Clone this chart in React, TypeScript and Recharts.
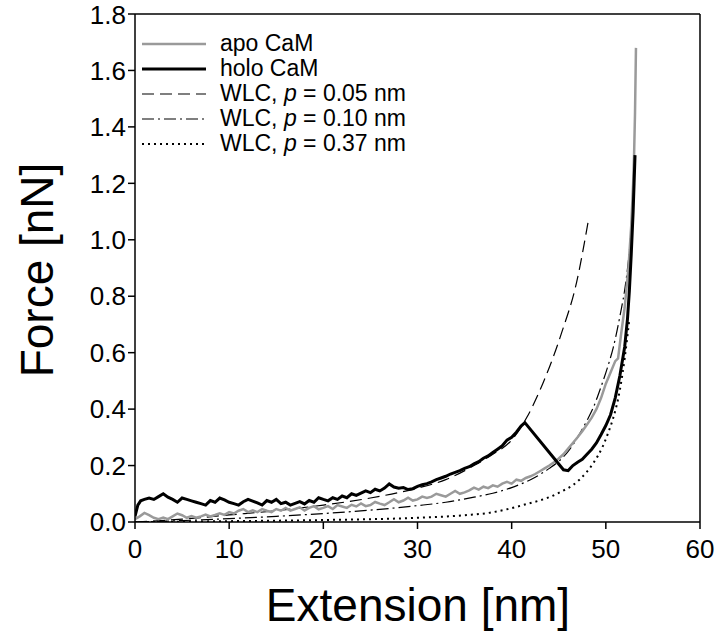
import { Label, Line, LineChart, ReferenceLine, XAxis, YAxis } from "recharts";
import type { ReactNode } from "react";

const FONT = '"Liberation Sans", Arial, Helvetica, sans-serif';

const xTicks = [0, 10, 20, 30, 40, 50, 60];
const yTicks = [0, 0.2, 0.4, 0.6, 0.8, 1.0, 1.2, 1.4, 1.6, 1.8];

// [extension nm, force nN]
const apoCaM: [number, number][] = [
  [0, 0.01], [0.5, 0.02], [1, 0.032], [1.5, 0.024], [2, 0.015], [2.5, 0.01], [3, 0.016],
  [3.5, 0.01], [4, 0.02], [4.5, 0.03], [5, 0.024], [5.5, 0.015], [6, 0.021], [6.5, 0.015],
  [7, 0.02], [7.5, 0.026], [8, 0.02], [8.5, 0.025], [9, 0.031], [9.5, 0.025], [10, 0.035],
  [10.5, 0.03], [11, 0.04], [11.5, 0.046], [12, 0.035], [12.5, 0.041], [13, 0.035],
  [13.5, 0.046], [14, 0.04], [14.5, 0.035], [15, 0.046], [15.5, 0.04], [16, 0.05],
  [16.5, 0.04], [17, 0.046], [17.5, 0.052], [18, 0.041], [18.5, 0.05], [19, 0.056],
  [19.5, 0.045], [20, 0.05], [20.5, 0.056], [21, 0.046], [21.5, 0.06], [22, 0.055],
  [22.5, 0.05], [23, 0.061], [23.5, 0.055], [24, 0.066], [24.5, 0.056], [25, 0.06],
  [25.5, 0.071], [26, 0.065], [26.5, 0.06], [27, 0.07], [27.5, 0.081], [28, 0.07],
  [28.5, 0.076], [29, 0.086], [29.5, 0.076], [30, 0.08], [30.5, 0.09], [31, 0.085],
  [31.5, 0.09], [32, 0.1], [32.5, 0.095], [33, 0.09], [33.5, 0.1], [34, 0.11], [34.5, 0.1],
  [35, 0.105], [35.5, 0.112], [36, 0.122], [36.5, 0.115], [37, 0.125], [37.5, 0.12],
  [38, 0.13], [38.5, 0.125], [39, 0.136], [39.5, 0.142], [40, 0.136], [40.5, 0.15],
  [41, 0.146], [41.5, 0.156], [42, 0.162], [42.5, 0.17], [43, 0.18], [43.5, 0.19],
  [44, 0.2], [44.5, 0.212], [45, 0.225], [45.5, 0.24], [46, 0.26], [46.5, 0.28],
  [47, 0.3], [47.5, 0.322], [48, 0.345], [48.5, 0.37], [49, 0.4], [49.5, 0.44],
  [50, 0.49], [50.5, 0.53], [51, 0.57], [51.3, 0.58], [51.6, 0.66], [52, 0.76],
  [52.4, 0.9], [52.7, 1.05], [52.9, 1.2], [53, 1.3], [53.1, 1.45], [53.2, 1.68],
];

const holoCaM: [number, number][] = [
  [0, 0.02], [0.3, 0.06], [0.6, 0.075], [1, 0.08], [1.5, 0.085], [2, 0.08], [2.5, 0.09],
  [3, 0.1], [3.5, 0.088], [4, 0.08], [4.5, 0.07], [5, 0.085], [5.5, 0.08], [6, 0.075],
  [6.5, 0.07], [7, 0.065], [7.5, 0.06], [8, 0.076], [8.5, 0.07], [9, 0.085], [9.5, 0.078],
  [10, 0.07], [10.5, 0.065], [11, 0.06], [11.5, 0.072], [12, 0.08], [12.5, 0.074],
  [13, 0.068], [13.5, 0.06], [14, 0.076], [14.5, 0.07], [15, 0.08], [15.5, 0.065],
  [16, 0.07], [16.5, 0.06], [17, 0.066], [17.5, 0.072], [18, 0.064], [18.5, 0.076],
  [19, 0.07], [19.5, 0.086], [20, 0.08], [20.5, 0.075], [21, 0.086], [21.5, 0.08],
  [22, 0.092], [22.5, 0.086], [23, 0.1], [23.5, 0.094], [24, 0.102], [24.5, 0.11],
  [25, 0.104], [25.5, 0.116], [26, 0.11], [26.5, 0.12], [27, 0.135], [27.5, 0.124],
  [28, 0.12], [28.5, 0.122], [29, 0.115], [29.5, 0.118], [30, 0.126], [30.5, 0.132],
  [31, 0.136], [31.5, 0.142], [32, 0.15], [32.5, 0.156], [33, 0.162], [33.5, 0.17],
  [34, 0.176], [34.5, 0.182], [35, 0.19], [35.5, 0.196], [36, 0.206], [36.5, 0.214],
  [37, 0.226], [37.5, 0.234], [38, 0.246], [38.5, 0.258], [39, 0.27], [39.5, 0.29],
  [40, 0.3], [40.5, 0.318], [41, 0.34], [41.4, 0.352], [45.5, 0.185], [46, 0.182],
  [46.5, 0.2], [47, 0.212], [47.5, 0.222], [48, 0.24], [48.5, 0.258], [49, 0.28],
  [49.5, 0.31], [50, 0.342], [50.5, 0.38], [51, 0.44], [51.5, 0.52], [52, 0.62],
  [52.3, 0.72], [52.5, 0.82], [52.7, 0.95], [52.9, 1.1], [53, 1.2], [53.1, 1.3],
];

const wlc005: [number, number][] = [
  [0, 0], [5, 0.01], [10, 0.025], [15, 0.04], [20, 0.06], [25, 0.085], [30, 0.12],
  [33, 0.15], [36, 0.2], [38, 0.24], [40, 0.29], [41.6, 0.37], [43.3, 0.49], [45.3, 0.67],
  [46.9, 0.85], [48.1, 1.06],
];

const wlc010: [number, number][] = [
  [0, 0], [5, 0.005], [10, 0.012], [15, 0.02], [20, 0.03], [25, 0.042], [30, 0.058],
  [33, 0.07], [36, 0.088], [38, 0.102], [40, 0.122], [42, 0.15], [44, 0.19], [45, 0.215],
  [46, 0.25], [47, 0.3], [48, 0.36], [48.6, 0.4], [49.5, 0.48], [50.2, 0.55], [50.8, 0.62],
  [51.5, 0.73], [52.2, 0.87], [52.6, 1.0], [52.9, 1.17],
];

const wlc037: [number, number][] = [
  [0, 0], [10, 0.003], [20, 0.007], [30, 0.015], [35, 0.024], [37.7, 0.033], [41.2, 0.06],
  [44.8, 0.1], [47.2, 0.15], [48.7, 0.21], [49.7, 0.27], [50.4, 0.33], [50.8, 0.37],
  [51.5, 0.47], [52, 0.58], [52.5, 0.72],
];

const toRows = (pts: [number, number][]) => pts.map(([x, f]) => ({ x, f }));

type Style = { stroke: string; width: number; dash?: string };

const series: { key: string; label: ReactNode; rows: [number, number][]; style: Style; smooth: boolean }[] = [
  { key: "wlc037", label: <>WLC, <i>p</i> = 0.37 nm</>, rows: wlc037, style: { stroke: "#000", width: 2, dash: "2 4" }, smooth: true },
  { key: "wlc010", label: <>WLC, <i>p</i> = 0.10 nm</>, rows: wlc010, style: { stroke: "#000", width: 1.2, dash: "12 4 2 4" }, smooth: true },
  { key: "wlc005", label: <>WLC, <i>p</i> = 0.05 nm</>, rows: wlc005, style: { stroke: "#000", width: 1.2, dash: "12 6" }, smooth: true },
  { key: "apo", label: "apo CaM", rows: apoCaM, style: { stroke: "#9a9a9a", width: 2.5 }, smooth: false },
  { key: "holo", label: "holo CaM", rows: holoCaM, style: { stroke: "#000", width: 3 }, smooth: false },
];

const legendOrder = ["apo", "holo", "wlc005", "wlc010", "wlc037"];

const W = 720;
const H = 636;
const margin = { top: 14, right: 20, left: 75, bottom: 74 };

function LegendBox() {
  return (
    <div style={{ position: "absolute", left: 142, top: 31, fontFamily: FONT, fontSize: 23 }}>
      {legendOrder.map((k) => {
        const s = series.find((d) => d.key === k)!;
        return (
          <div key={k} style={{ display: "flex", alignItems: "center", height: 25 }}>
            <svg width={64} height={10}>
              <line x1={0} y1={5} x2={64} y2={5} stroke={s.style.stroke} strokeWidth={s.style.width} strokeDasharray={s.style.dash} />
            </svg>
            <span style={{ marginLeft: 14, whiteSpace: "nowrap" }}>{s.label}</span>
          </div>
        );
      })}
    </div>
  );
}

export default function App() {
  const tick = { fill: "#000", fontSize: 26, fontFamily: FONT };
  return (
    <div style={{ position: "absolute", left: 0, top: 0, width: W, height: H, background: "#fff" }}>
      <LineChart width={W} height={H} margin={margin}>
        <XAxis
          type="number"
          dataKey="x"
          domain={[0, 60]}
          ticks={xTicks}
          allowDataOverflow
          height={40}
          tick={tick}
          tickSize={7}
          tickMargin={11}
          stroke="#000"
          strokeWidth={1.5}
        >
          <Label
            content={() => (
              <text x={418} y={621} textAnchor="middle" fontSize={46} fontFamily={FONT} fill="#000">
                Extension [nm]
              </text>
            )}
          />
        </XAxis>
        <YAxis
          type="number"
          domain={[0, 1.8]}
          ticks={yTicks}
          allowDataOverflow
          width={60}
          tick={tick}
          tickSize={7}
          tickMargin={2}
          tickFormatter={(v: number) => v.toFixed(1)}
          stroke="#000"
          strokeWidth={1.5}
        >
          <Label
            content={() => (
              <text
                x={53}
                y={270}
                textAnchor="middle"
                fontSize={46}
                fontFamily={FONT}
                fill="#000"
                transform="rotate(-90 53 270)"
              >
                Force [nN]
              </text>
            )}
          />
        </YAxis>
        <ReferenceLine y={1.8} stroke="#000" strokeWidth={1.5} />
        <ReferenceLine x={60} stroke="#000" strokeWidth={1.5} />
        {series.map((s) => (
          <Line
            key={s.key}
            data={toRows(s.rows)}
            dataKey="f"
            type={s.smooth ? "monotone" : "linear"}
            stroke={s.style.stroke}
            strokeWidth={s.style.width}
            strokeDasharray={s.style.dash}
            dot={false}
            activeDot={false}
            isAnimationActive={false}
          />
        ))}
      </LineChart>
      <LegendBox />
    </div>
  );
}
